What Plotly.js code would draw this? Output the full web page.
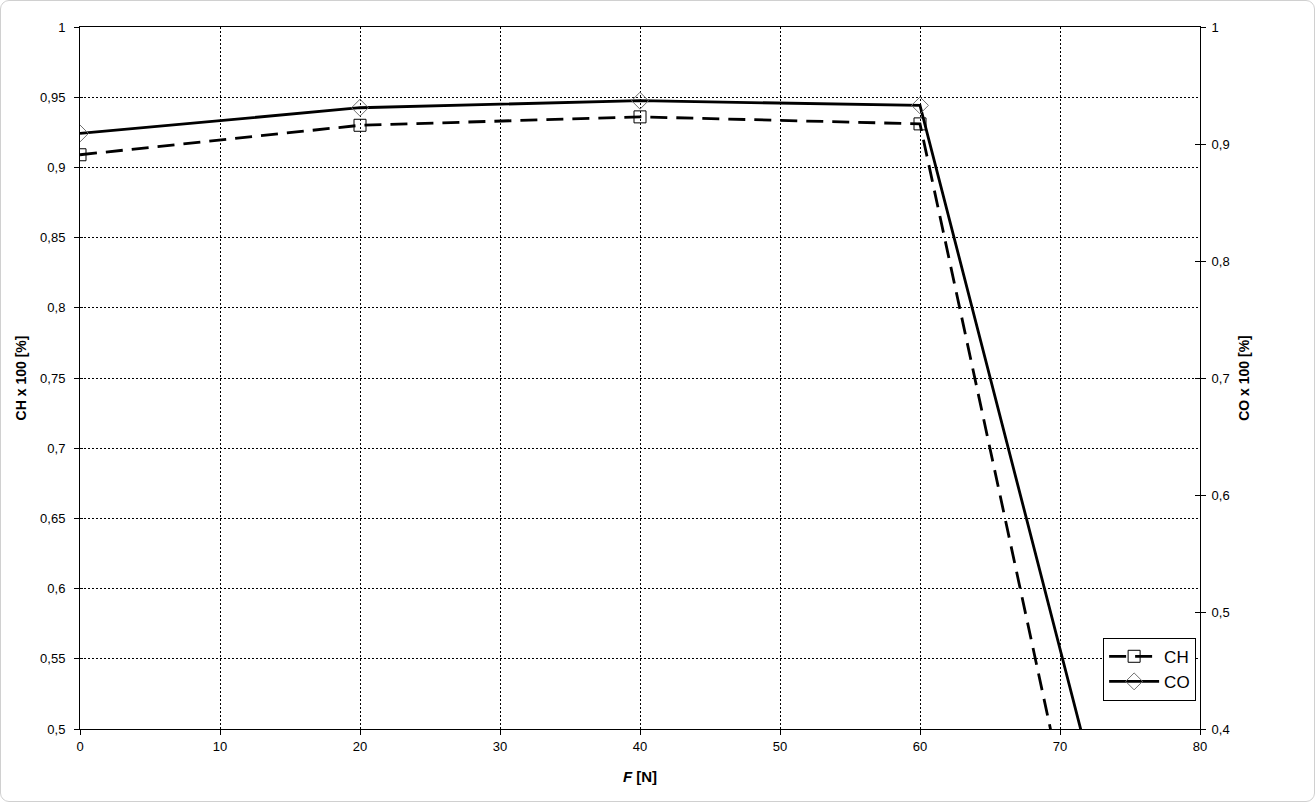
<!DOCTYPE html>
<html>
<head>
<meta charset="utf-8">
<script src="https://cdn.plot.ly/plotly-3.0.1.min.js"></script>
<style>
  html, body { margin: 0; padding: 0; background: #fff; }
  #wrap { position: relative; width: 1315px; height: 802px; }
  #chart { position: absolute; left: 0; top: 0; width: 1315px; height: 802px; }
  #frame { position: absolute; left: 0; top: 0; width: 1315px; height: 802px; box-sizing: border-box;
           border: 1px solid #d0d0d0; border-radius: 9px; pointer-events: none; }
</style>
</head>
<body>
<div id="wrap"><div id="chart"></div><div id="frame"></div></div>
<script>
// Data
const forceN = [0, 20, 40, 60, 80];
const chValues = [0.909, 0.930, 0.936, 0.931, 0.006];   // left axis, CH x 100 [%]
const coValues = [0.909, 0.931, 0.937, 0.933, 0.004];   // right axis, CO x 100 [%]

const xTickVals = [0, 10, 20, 30, 40, 50, 60, 70, 80];
const yLeftTickVals = [0.5, 0.55, 0.6, 0.65, 0.7, 0.75, 0.8, 0.85, 0.9, 0.95, 1];
const yLeftTickText = ['0,5', '0,55', '0,6', '0,65', '0,7', '0,75', '0,8', '0,85', '0,9', '0,95', '1'];
const yRightTickVals = [0.4, 0.5, 0.6, 0.7, 0.8, 0.9, 1];
const yRightTickText = ['0,4', '0,5', '0,6', '0,7', '0,8', '0,9', '1'];

const FONT = 'Liberation Sans, Arial, sans-serif';

const traces = [
  {
    x: forceN, y: chValues, name: 'CH', yaxis: 'y', type: 'scatter', mode: 'lines+markers',
    line: { color: '#000', width: 2.8, dash: '17px,9px' },
    marker: { symbol: 'square-open', size: 12, color: '#000', line: { width: 1, color: '#000' } }
  },
  {
    x: forceN, y: coValues, name: 'CO', yaxis: 'y2', type: 'scatter', mode: 'lines+markers',
    line: { color: '#000', width: 2.8 },
    marker: { symbol: 'diamond-open', size: 13, color: '#707070', line: { width: 1, color: '#707070' } }
  }
];

const layout = {
  width: 1315, height: 802,
  margin: { l: 80, r: 115, t: 27, b: 73, pad: 0 },
  paper_bgcolor: 'rgba(0,0,0,0)', plot_bgcolor: '#fff',
  font: { family: FONT, size: 13, color: '#000' },
  showlegend: true,
  legend: {
    x: 0.9135, y: 0.13, xanchor: 'left', yanchor: 'top',
    bgcolor: '#fff', bordercolor: '#000', borderwidth: 1,
    font: { family: FONT, size: 17, color: '#000' },
    itemwidth: 50
  },
  xaxis: {
    range: [0, 80], tickvals: xTickVals, ticktext: xTickVals.map(String),
    showline: true, linecolor: '#000', linewidth: 1, mirror: true,
    ticks: 'outside', ticklen: 5, tickcolor: '#000',
    showgrid: true, gridcolor: '#000', gridwidth: 1, griddash: '2px,2px',
    zeroline: false, tickfont: { family: FONT, size: 13 },
    title: { text: '<b><i>F</i> [N]</b>', font: { family: FONT, size: 15 }, standoff: 18 },
    automargin: false
  },
  yaxis: {
    range: [0.5, 1], tickvals: yLeftTickVals, ticktext: yLeftTickText,
    showline: true, linecolor: '#000', linewidth: 1,
    ticks: 'outside', ticklen: 5, tickcolor: '#000', ticklabelstandoff: 6,
    showgrid: true, gridcolor: '#000', gridwidth: 1, griddash: '2px,2px',
    zeroline: false, tickfont: { family: FONT, size: 13 },
    title: { text: '<b>CH x 100 [%]</b>', font: { family: FONT, size: 14 }, standoff: 10 },
    automargin: false
  },
  yaxis2: {
    range: [0.4, 1], tickvals: yRightTickVals, ticktext: yRightTickText,
    overlaying: 'y', side: 'right',
    showline: true, linecolor: '#000', linewidth: 1,
    ticks: 'outside', ticklen: 5, tickcolor: '#000', ticklabelstandoff: 3,
    showgrid: false, zeroline: false, tickfont: { family: FONT, size: 13 },
    title: { text: '<b>CO x 100 [%]</b>', font: { family: FONT, size: 14 }, standoff: 10 },
    automargin: false
  },
  yaxis3: {
    range: [0.4, 1], tickvals: yRightTickVals, overlaying: 'y', side: 'right',
    showticklabels: false, ticks: 'inside', ticklen: 5, tickcolor: '#000',
    showgrid: false, zeroline: false, showline: false
  },
  yaxis4: {
    range: [0.5, 1], tickvals: yLeftTickVals, overlaying: 'y', side: 'left',
    showticklabels: false, ticks: 'inside', ticklen: 3, tickcolor: '#000',
    showgrid: false, zeroline: false, showline: false
  }
};

// invisible traces so the inside-tick axes render
traces.push({ x: [null], y: [null], yaxis: 'y3', showlegend: false, hoverinfo: 'skip', mode: 'lines' });
traces.push({ x: [null], y: [null], yaxis: 'y4', showlegend: false, hoverinfo: 'skip', mode: 'lines' });

Plotly.newPlot('chart', traces, layout, { displayModeBar: false, staticPlot: true });
</script>
</body>
</html>
